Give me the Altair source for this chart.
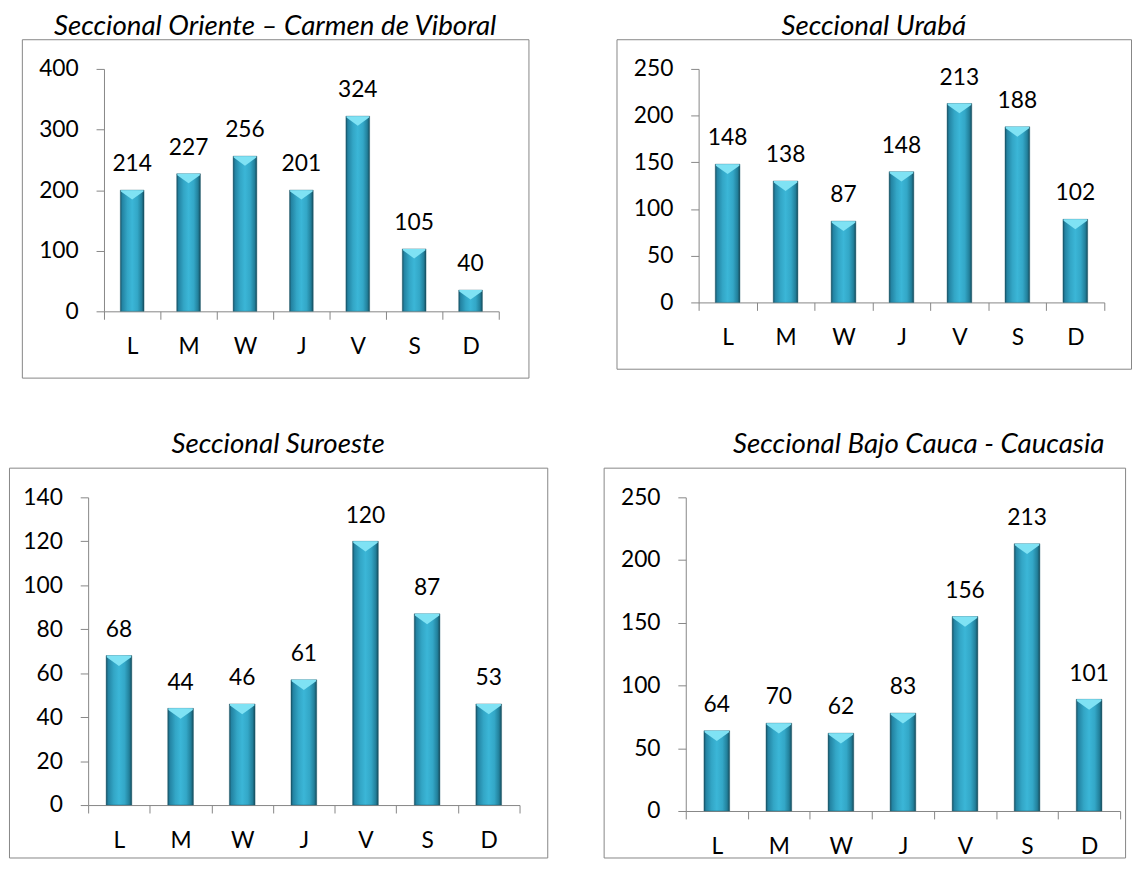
import altair as alt
import pandas as pd

days = ["L", "M", "W", "J", "V", "S", "D"]

# Panel titles
t_oriente = "Seccional Oriente – Carmen de Viboral"
t_uraba = "Seccional Urabá"
t_suroeste = "Seccional Suroeste"
t_bajo = "Seccional Bajo Cauca - Caucasia"

# Bar heights as drawn, and the data labels printed above them
oriente_bars = [200, 227, 256, 200, 322, 103, 35]
oriente_labels = [214, 227, 256, 201, 324, 105, 40]
uraba_bars = [148, 130, 87, 140, 213, 188, 89]
uraba_labels = [148, 138, 87, 148, 213, 188, 102]
suroeste_bars = [68, 44, 46, 57, 120, 87, 46]
suroeste_labels = [68, 44, 46, 61, 120, 87, 53]
bajo_bars = [64, 70, 62, 78, 155, 213, 89]
bajo_labels = [64, 70, 62, 83, 156, 213, 101]

oriente_ticks = [0, 100, 200, 300, 400]
uraba_ticks = [0, 50, 100, 150, 200, 250]
suroeste_ticks = [0, 20, 40, 60, 80, 100, 120, 140]
bajo_ticks = [0, 50, 100, 150, 200, 250]

FONT = "Lato"
GRAY = "#868686"
LABEL_SIZE = 23

bar_gradient = alt.Gradient(
    gradient="linear",
    x1=0, x2=1, y1=0, y2=0,
    stops=[
        alt.GradientStop(color="#174f62", offset=0),
        alt.GradientStop(color="#2383a2", offset=0.08),
        alt.GradientStop(color="#33a6c6", offset=0.3),
        alt.GradientStop(color="#3bb6d7", offset=0.5),
        alt.GradientStop(color="#33a7c7", offset=0.72),
        alt.GradientStop(color="#22809b", offset=0.9),
        alt.GradientStop(color="#154a5a", offset=1),
    ],
)

BEVEL = "M-0.95,0L0.95,0L0.95,0.12L0,0.8L-0.95,0.12Z"


def panel(title, bars, labels, ticks, W, H, x0, x1, y0, ytop, barw, title_offset, title_dx=0):
    df = pd.DataFrame({"day": days, "bar": bars, "label": labels})
    x = alt.X(
        "day:N", sort=days,
        scale=alt.Scale(range=[x0, x1], paddingInner=0, paddingOuter=0),
        axis=alt.Axis(title=None, labelAngle=0, tickBand="extent", offset=-(H - y0),
                      tickSize=8, labelPadding=17, grid=False),
    )
    y = alt.Y(
        "bar:Q",
        scale=alt.Scale(domain=[0, max(ticks)], range=[y0, ytop], nice=False, zero=True),
        axis=alt.Axis(title=None, values=ticks, offset=-x0, tickSize=8,
                      labelPadding=18, grid=False),
    )
    base = alt.Chart(df)
    b = base.mark_bar(size=barw, color=bar_gradient, stroke="#1a5a6c", strokeWidth=0.4).encode(x=x, y=y)
    bev = base.mark_point(shape=BEVEL, size=barw * barw, filled=True, color="#7fe2f4",
                          opacity=1, strokeWidth=0).encode(x=x, y=y)
    txt = base.mark_text(baseline="alphabetic", dy=-19, fontSize=LABEL_SIZE, font=FONT,
                         color="black").encode(x=x, y=y, text="label:N")
    return alt.layer(b, bev, txt).properties(
        width=W, height=H,
        title=alt.Title(title, font=FONT, fontSize=28, fontStyle="italic",
                        fontWeight="normal", color="black", anchor="middle",
                        baseline="bottom", offset=title_offset, frame="group",
                        dx=title_dx),
        view=alt.ViewBackground(stroke=GRAY, strokeWidth=1),
    )


def spacer(w):
    return alt.Chart(alt.Data(values=[{"a": 0}])).mark_text(text="").encode(
        x=alt.value(0), y=alt.value(0)
    ).properties(width=w, height=1, view=alt.ViewBackground(stroke="transparent"))


oriente = panel(t_oriente, oriente_bars, oriente_labels, oriente_ticks,
                512, 342, 83, 482, 275, 30, 24, -30)
uraba = panel(t_uraba, uraba_bars, uraba_labels, uraba_ticks,
              520, 333, 83, 493, 266, 30, 25, -30)
suroeste = panel(t_suroeste, suroeste_bars, suroeste_labels, suroeste_ticks,
                 544, 394, 80, 516, 341, 30, 26, -19)
bajo = panel(t_bajo, bajo_bars, bajo_labels, bajo_ticks,
             527, 394, 83, 522, 347, 30, 26, -19, 55)

top = alt.hconcat(spacer(11), oriente, spacer(85), uraba, spacing=0)
bottom = alt.hconcat(suroeste, spacer(53), bajo, spacing=0)

chart = alt.vconcat(top, bottom, spacing=52).properties(
    padding={"left": 0, "top": 0, "right": 0, "bottom": 0}
).configure_axis(
    domainColor=GRAY, tickColor=GRAY, domainWidth=1, tickWidth=1,
    labelFont=FONT, labelFontSize=LABEL_SIZE, labelColor="black",
).configure_view(stroke=GRAY)

chart.save("out.html", embed_options={"renderer": "svg", "actions": False})
